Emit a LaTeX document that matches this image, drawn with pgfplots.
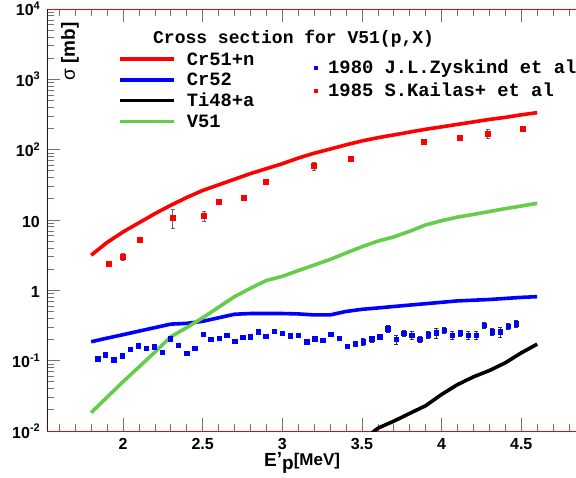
\documentclass[border=0pt]{standalone}
\usepackage{fontspec}
\setmainfont{Liberation Sans}
\newfontfamily\monofam{Liberation Mono}
\usepackage{pgfplots}
\pgfplotsset{compat=1.18}
\usepackage{pgfplotstable}
\definecolor{vgreen}{RGB}{102,204,76}
\newcommand{\sups}[1]{\raisebox{6.5pt}{\fontsize{11}{11}\selectfont #1}}
\pgfplotsset{
  markleg/.style={legend image code/.code={\draw[##1, mark size=1.5pt] plot coordinates {(0pt,0pt)};}},
  lineleg/.style={legend image code/.code={\draw[##1] (0pt,0pt) -- (54pt,0pt);}},
}

\pgfplotstableread{
x y
1.8 3.16
1.9 4.79
2.0 6.76
2.1 9.12
2.2 12.3
2.3 16.2
2.4 20.9
2.5 26.3
2.6 31.6
2.7 38.0
2.8 45.7
2.9 53.7
3.0 63.1
3.1 75.9
3.2 89.1
3.3 102
3.4 117
3.5 133
3.6 148
3.7 162
3.8 178
3.9 195
4.0 211
4.1 229
4.2 248
4.3 269
4.4 288
4.5 313
4.6 336
}\crn

\pgfplotstableread{
x y
1.8 0.186
1.9 0.209
2.0 0.234
2.1 0.263
2.2 0.295
2.3 0.331
2.4 0.339
2.5 0.363
2.6 0.407
2.7 0.457
2.8 0.468
2.9 0.468
3.0 0.468
3.1 0.462
3.2 0.447
3.3 0.447
3.4 0.501
3.5 0.537
3.6 0.562
3.7 0.589
3.8 0.617
3.9 0.646
4.0 0.676
4.1 0.708
4.2 0.724
4.3 0.741
4.4 0.767
4.5 0.794
4.6 0.813
}\crb

\pgfplotstableread{
x y
3.5 0.00724
3.6 0.01096
3.7 0.0138
3.8 0.0178
3.9 0.0229
4.0 0.0331
4.1 0.0457
4.2 0.0589
4.3 0.0724
4.4 0.0933
4.5 0.129
4.6 0.172
}\tia

\pgfplotstableread{
x y
1.8 0.0182
1.9 0.0302
2.0 0.0501
2.1 0.0813
2.2 0.132
2.3 0.219
2.4 0.295
2.5 0.407
2.6 0.575
2.7 0.813
2.8 1.07
2.9 1.38
3.0 1.58
3.1 1.91
3.2 2.29
3.3 2.75
3.4 3.39
3.5 4.17
3.6 5.01
3.7 5.75
3.8 6.92
3.9 8.51
4.0 9.77
4.1 11.0
4.2 12.0
4.3 13.2
4.4 14.5
4.5 15.8
4.6 17.3
}\vfi

\pgfplotstableread{
x y e
1.841 0.106 0.005
1.889 0.121 0.006
1.942 0.103 0.005
1.996 0.117 0.006
2.044 0.146 0.007
2.094 0.163 0.008
2.144 0.150 0.007
2.196 0.158 0.008
2.247 0.132 0.007
2.297 0.205 0.010
2.347 0.167 0.008
2.400 0.127 0.006
2.450 0.151 0.008
2.502 0.239 0.012
2.550 0.203 0.010
2.602 0.207 0.010
2.651 0.231 0.012
2.701 0.190 0.010
2.751 0.214 0.011
2.797 0.219 0.011
2.847 0.258 0.013
2.897 0.224 0.011
2.950 0.264 0.013
3.000 0.244 0.012
3.050 0.226 0.011
3.100 0.231 0.012
3.153 0.186 0.009
3.203 0.205 0.010
3.254 0.195 0.010
3.304 0.239 0.012
3.356 0.207 0.010
3.406 0.160 0.008
3.456 0.174 0.009
3.509 0.186 0.022
3.561 0.205 0.020
3.611 0.219 0.020
3.661 0.284 0.030
3.714 0.203 0.030
3.762 0.244 0.025
3.812 0.231 0.028
3.862 0.203 0.022
3.914 0.234 0.028
3.965 0.249 0.040
4.015 0.272 0.030
4.067 0.229 0.030
4.117 0.249 0.025
4.167 0.231 0.030
4.216 0.231 0.030
4.266 0.318 0.030
4.316 0.258 0.030
4.366 0.258 0.040
4.419 0.310 0.030
4.467 0.335 0.035
}\zysk

\pgfplotstableread{
x y e
1.908 2.37 0
1.998 3.0 0.35
2.107 5.2 0
2.312 10.9 3.2
2.508 11.4 1.7
2.598 18.5 0
2.759 20.8 0
2.897 34.7 0
3.199 58.6 7
3.430 73.8 0
3.889 130 0
4.111 150 0
4.289 171 24
4.511 197 0
}\kail

\begin{document}
\begin{tikzpicture}
\useasboundingbox (-47pt,-46pt) rectangle (529pt,431pt);
\clip (-47pt,-46pt) rectangle (529pt,431pt);
\begin{axis}[
  at={(0pt,0pt)}, anchor=south west,
  scale only axis, width=530pt, height=422pt,
  xmin=1.5229, xmax=4.850,
  ymode=log, ymin=0.01, ymax=10000,
  separate axis lines,
  x axis line style={red, line width=0.9pt},
  y axis line style={red!40!black, line width=0.9pt},
  tick align=inside, xtick pos=both, ytick pos=left,
  major tick length=13pt, minor tick length=7pt,
  every tick/.style={black!55, line width=0.7pt},
  xtick={2,2.5,3,3.5,4,4.5},
  xticklabels={2,2.5,3,3.5,4,4.5},
  minor xtick={1.6,1.7,1.8,1.9,2.1,2.2,2.3,2.4,2.6,2.7,2.8,2.9,3.1,3.2,3.3,3.4,3.6,3.7,3.8,3.9,4.1,4.2,4.3,4.4,4.6,4.7,4.8},
  ytick={0.01,0.1,1,10,100,1000,10000},
  yticklabels={10\sups{-2},10\sups{-1},1,10,10\sups{2},10\sups{3},10\sups{4}},
  minor ytick={0.02,0.03,0.04,0.05,0.06,0.07,0.08,0.09,0.2,0.3,0.4,0.5,0.6,0.7,0.8,0.9,2,3,4,5,6,7,8,9,20,30,40,50,60,70,80,90,200,300,400,500,600,700,800,900,2000,3000,4000,5000,6000,7000,8000,9000},
  /pgf/number format/assume math mode=true,
  tick label style={font=\fontsize{16}{16}\selectfont\bfseries},
  xticklabel style={anchor=north, inner sep=0pt, yshift=-7pt},
  yticklabel style={anchor=base east, inner sep=0pt, xshift=-7pt, yshift=-7pt},
  every axis plot/.append style={line width=3.6pt},
  lineleg,
  legend cell align=left,
  legend style={at={(0.134,0.906)}, anchor=north west, draw=none, fill=none,
    inner sep=0pt, row sep=0pt, column sep=11pt,
    font=\monofam\bfseries\fontsize{18.8}{18.8}\selectfont,
    nodes={inner sep=0pt, text height=16.2pt, text depth=4.5pt}},
]
\addplot[red] table[x=x,y=y] {\crn};
\addlegendentry{Cr51+n}
\addplot[blue] table[x=x,y=y] {\crb};
\addlegendentry{Cr52}
\addplot[black] table[x=x,y=y] {\tia};
\addlegendentry{Ti48+a}
\addplot[vgreen] table[x=x,y=y] {\vfi};
\addlegendentry{V51}
\node[anchor=base west, inner sep=0pt, font=\monofam\bfseries\fontsize{18}{18}\selectfont] at (rel axis cs:0.2,0.9194) {Cross section for V51(p,X)};
\node[rotate=90, anchor=east, inner sep=0pt, font=\fontsize{19}{19}\selectfont\bfseries] at (rel axis cs:0.0434,0.9692) {{\mdseries σ} [mb]};
\end{axis}
\begin{axis}[
  at={(0pt,0pt)}, anchor=south west,
  scale only axis, width=530pt, height=422pt,
  xmin=1.5229, xmax=4.850,
  ymode=log, ymin=0.01, ymax=10000,
  hide axis,
  legend cell align=left,
  legend style={at={(0.5047,0.888)}, anchor=north west, draw=none, fill=none,
    inner sep=0pt, row sep=0pt, column sep=10.5pt,
    font=\monofam\bfseries\fontsize{18.8}{18.8}\selectfont,
    nodes={inner sep=0pt, text height=17.2pt, text depth=5.8pt}},
]
\addplot[only marks, mark=square*, mark size=2.2pt, mark options={blue, fill=blue},
  markleg,
  error bars/.cd, y dir=both, y explicit,
  error bar style={black!80, line width=0.6pt},
  error mark options={rotate=90, mark size=2pt, black!80, line width=0.6pt}]
  table[x=x,y=y,y error=e] {\zysk};
\addlegendentry{1980 J.L.Zyskind et al}
\addplot[only marks, mark=square*, mark size=2.5pt, mark options={red, fill=red},
  markleg,
  error bars/.cd, y dir=both, y explicit,
  error bar style={black!60, line width=0.6pt},
  error mark options={rotate=90, mark size=2pt, black!60, line width=0.6pt}]
  table[x=x,y=y,y error=e] {\kail};
\addlegendentry{1985 S.Kailas+ et al}
\end{axis}
\node[anchor=base west, inner sep=0pt, font=\fontsize{19}{19}\selectfont\bfseries] at (217pt,-35.7pt) {E\raisebox{1pt}{'}\raisebox{-2.5pt}{p}\raisebox{1.5pt}{\fontsize{17}{17}\selectfont[MeV]}};
\end{tikzpicture}
\end{document}
